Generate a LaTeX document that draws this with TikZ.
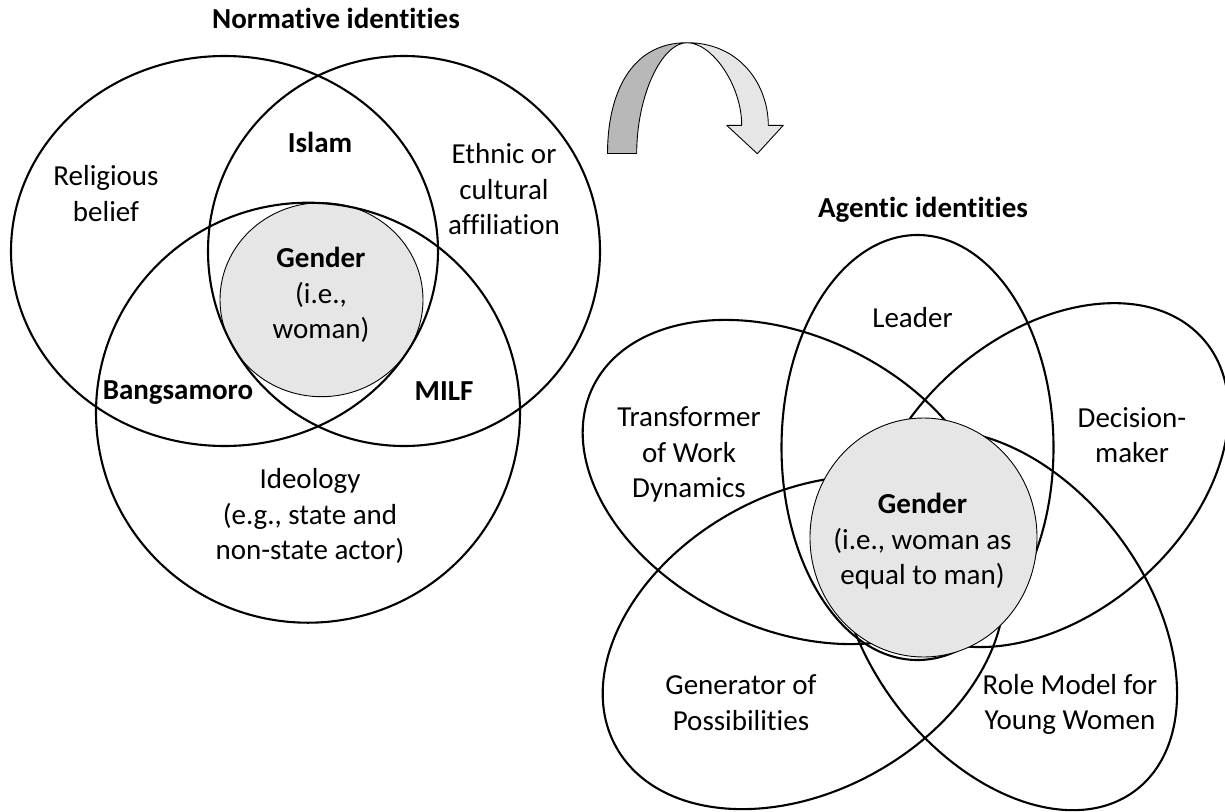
\documentclass[tikz,border=0pt]{standalone}
\usepackage{fontspec}
\setmainfont{Carlito}[Ligatures={NoCommon,NoRare,NoDiscretionary}]
\definecolor{gfill}{HTML}{E6E6E6}
\definecolor{adark}{HTML}{B8B8B8}
\definecolor{alight}{HTML}{E6E6E6}
\tikzset{
  venn/.style={draw=black, line width=2.1pt},
  gcirc/.style={fill=gfill, draw=black, line width=0.9pt},
  lbl/.style={font=\fontsize{29}{35.3}\selectfont, align=center, inner sep=0pt},
  blbl/.style={font=\fontsize{29}{35.3}\selectfont\bfseries, align=center, inner sep=0pt},
  arrowpart/.style={draw=black, line width=0.9pt, line join=round},
}
\begin{document}
\begin{tikzpicture}[x=1pt, y=-1pt]
\useasboundingbox (0,0) rectangle (1225,811);

% ---------- left Venn diagram ----------
\fill[gfill] (321.5,299.7) ellipse [x radius=101.5pt, y radius=97pt];
\draw[venn] (224.5,251) ellipse [x radius=213.5pt, y radius=195pt];
\draw[venn] (404,251) ellipse [x radius=196pt, y radius=195pt];
\draw[venn] (308,412.7) ellipse [x radius=212pt, y radius=210pt];
\draw[draw=black, line width=0.9pt] (321.5,299.7) ellipse [x radius=101.5pt, y radius=97pt];

\node[blbl] (title1) at (336,21) {\strut Normative identities};
\node[lbl] (relig) at (106,196.5) {\strut Religious\\\strut belief};
\node[blbl] (islam) at (320,145) {\strut Islam};
\node[lbl] (ethnic) at (504,192) {\strut Ethnic or\\\strut cultural\\\strut affiliation};
\node[lbl] (gend1) at (321,296) {\strut\textbf{Gender}\\\strut(i.e.,\\\strut woman)};
\node[blbl] (bangs) at (178,392) {\strut Bangsamoro};
\node[blbl] (milf) at (444,393) {\strut MILF};
\node[lbl] (ideol) at (310,517) {\strut Ideology\\\strut(e.g., state and\\\strut non-state actor)};

% ---------- curved arrow ----------
\path[arrowpart, fill=adark]
  (607.5,153.5) -- (636.7,153.5)
  .. controls (636.7,95) and (662,42.7) .. (687,42.7)
  .. controls (630,42.7) and (607.5,95) .. (607.5,153.5) -- cycle;
\path[arrowpart, fill=alight]
  (687,42.7) .. controls (712,42.7) and (741.7,85) .. (741.7,125.3)
  -- (726.7,125.3) -- (757.3,153.7) -- (783.3,125.3) -- (768.3,125.3)
  .. controls (768.3,85) and (740,42.7) .. (687,42.7) -- cycle;

% ---------- right flower diagram ----------
\draw[venn] (917.5,447.5) ellipse [x radius=136pt, y radius=212.5pt];
\draw[venn, rotate around={-26:(788,482)}] (788,482) ellipse [x radius=217pt, y radius=146pt];
\draw[venn, rotate around={40.9:(1047.2,475.1)}] (1047.2,475.1) ellipse [x radius=207pt, y radius=140pt];
\draw[venn, rotate around={29.2:(803.5,642.6)}] (803.5,642.6) ellipse [x radius=214.5pt, y radius=148.4pt];
\draw[venn, rotate around={-53.1:(1007.3,620.3)}] (1007.3,620.3) ellipse [x radius=213pt, y radius=139.6pt];
\draw[gcirc] (923.5,537.5) ellipse [x radius=113.5pt, y radius=119.5pt];

\node[blbl] (title2) at (923,210) {\strut Agentic identities};
\node[lbl] (leader) at (912.5,320) {\strut Leader};
\node[lbl] (transf) at (689,455) {\strut Transformer\\\strut of Work\\\strut Dynamics};
\node[lbl] (decis) at (1132,438) {\strut Decision-\\\strut maker};
\node[lbl] (gend2) at (922.5,542) {\strut\textbf{Gender}\\\strut(i.e., woman as\\\strut equal to man)};
\node[lbl] (gener) at (741,705.5) {\strut Generator of\\\strut Possibilities};
\node[lbl] (rolem) at (1070,705) {\strut Role Model for\\\strut Young Women};
\end{tikzpicture}
\end{document}
